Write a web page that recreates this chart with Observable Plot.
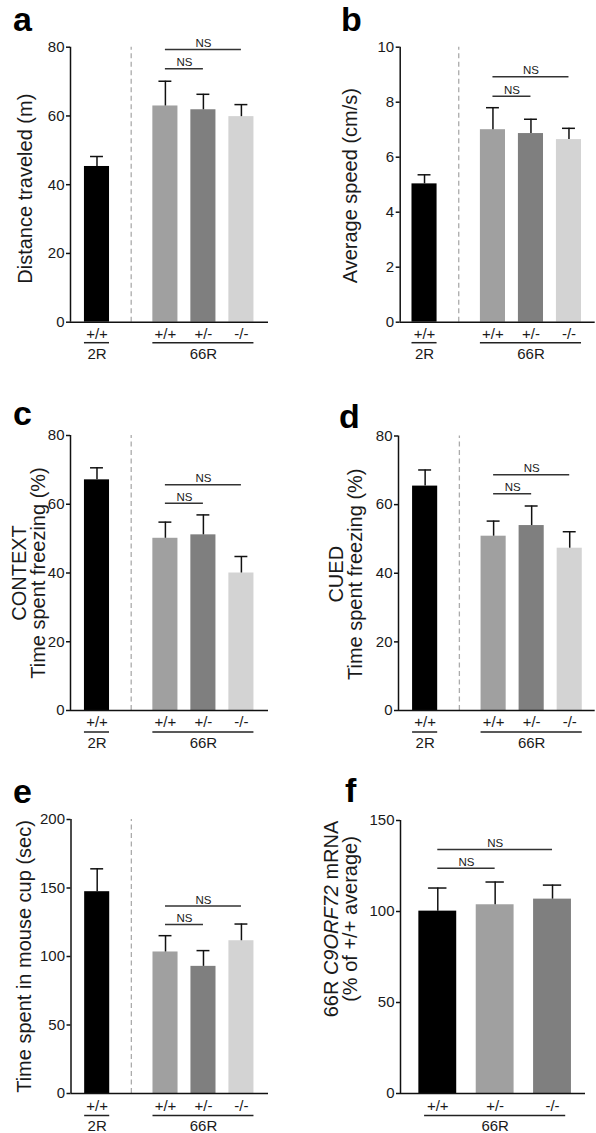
<!DOCTYPE html>
<html><head><meta charset="utf-8">
<script src="https://cdn.jsdelivr.net/npm/d3@7"></script>
<script src="https://cdn.jsdelivr.net/npm/@observablehq/plot@0.6"></script>
<style>
body{margin:0;background:#fff;}
#fig{position:relative;width:596px;height:1133px;overflow:hidden;font-family:"Liberation Sans",Arial,Helvetica,sans-serif;}
.panel{position:absolute;}
.letter{position:absolute;font:bold 34px "Liberation Sans",Arial,sans-serif;line-height:34px;color:#000;}
</style></head>
<body><div id="fig"></div>
<script>
// ---- data ----
const genotypes = ["+/+", "+/+", "+/-", "-/-"];
const lines = ["2R", "66R", "66R", "66R"];
const distanceMean = [45.3, 62.9, 61.8, 59.8];
const distanceSem = [2.9, 7.2, 4.5, 3.5];
const speedMean = [5.03, 7.0, 6.86, 6.64];
const speedSem = [0.33, 0.8, 0.52, 0.41];
const contextMean = [67.1, 50.1, 51.1, 40.0];
const contextSem = [3.5, 4.7, 5.8, 4.8];
const cuedMean = [65.4, 50.8, 53.9, 47.3];
const cuedSem = [4.7, 4.4, 5.7, 4.8];
const cupMean = [147.3, 103.3, 92.8, 111.5];
const cupSem = [16.7, 11.9, 11.5, 12.2];
const mrnaGenotypes = ["+/+", "+/-", "-/-"];
const mrnaLines = ["66R", "66R", "66R"];
const mrnaMean = [100.2, 103.7, 106.8];
const mrnaSem = [12.7, 12.5, 7.7];
// significance brackets: [from bar, to bar, height]
const distanceNS = [[1, 3, 79.3], [1, 2, 73.7]];
const speedNS = [[1, 3, 8.93], [1, 2, 8.22]];
const contextNS = [[1, 3, 65.7], [1, 2, 60.3]];
const cuedNS = [[1, 3, 68.7], [1, 2, 63.2]];
const cupNS = [[1, 3, 136.8], [1, 2, 123.4]];
const mrnaNS = [[0, 2, 134.1], [0, 1, 123.8]];
const distanceTicks = [0, 20, 40, 60, 80];
const speedTicks = [0, 2, 4, 6, 8, 10];
const freezeTicks = [0, 20, 40, 60, 80];
const cupTicks = [0, 50, 100, 150, 200];
const mrnaTicks = [0, 50, 100, 150];

// ---- styles ----
const palette4 = ["#000000", "#a0a0a0", "#7f7f7f", "#d3d3d3"];
const palette3 = ["#000000", "#a0a0a0", "#7f7f7f"];
const FONT = '"Liberation Sans", Arial, Helvetica, sans-serif';
const INK = "#1a1a1a";
const GAP = 0.8;
const TICK_FS = 15;

function makePanel(o) {
  let b = 0;
  const rows = o.cats.map((g, i) => {
    if (i > 0 && o.groups[i] !== o.groups[i - 1]) b++;
    return {genotype: g, line: o.groups[i], mean: o.means[i], sem: o.sems[i], pos: i + GAP * b, color: o.palette[i]};
  });
  const bh = o.barHalf, ch = o.capHalf, inset = o.inset || 0;
  const spans = d3.groups(rows, d => d.line).map(([name, rs]) => ({
    name,
    x1: d3.min(rs, d => d.pos) - bh + inset,
    x2: d3.max(rs, d => d.pos) + bh - inset
  }));
  const dividers = [];
  for (let i = 1; i < rows.length; i++) if (rows[i].line !== rows[i - 1].line) dividers.push((rows[i].pos + rows[i - 1].pos) / 2);
  const ns = o.ns.map(([a, c, y]) => ({x1: rows[a].pos, x2: rows[c].pos, y}));
  const ymax = o.yDomain[1];
  const x0 = o.xDomain[0], x1 = o.xDomain[1];
  const svg = Plot.plot({
    width: o.width, height: o.height,
    marginTop: o.mt, marginBottom: o.mb, marginLeft: o.ml, marginRight: o.mr,
    x: {type: "linear", domain: o.xDomain, axis: null},
    y: {domain: o.yDomain, axis: null},
    color: {type: "identity"},
    style: {fontFamily: FONT, color: INK, background: "transparent", overflow: "visible"},
    marks: [
      Plot.ruleX(dividers, {x: d => d, y1: 0, y2: ymax, stroke: "#ababab", strokeWidth: 1.3, strokeDasharray: "5,3.5"}),
      Plot.rectY(rows, {x1: d => d.pos - bh, x2: d => d.pos + bh, y: "mean", fill: "color"}),
      Plot.ruleX(rows, {x: "pos", y1: "mean", y2: d => d.mean + d.sem, stroke: "#111", strokeWidth: 1.5}),
      Plot.ruleY(rows, {y: d => d.mean + d.sem, x1: d => d.pos - ch, x2: d => d.pos + ch, stroke: "#111", strokeWidth: 1.5}),
      Plot.axisY({ticks: o.yTicks, tickSize: 4, tickPadding: 2, fontSize: TICK_FS, label: null, stroke: "#111", strokeWidth: 1.5, fill: INK}),
      Plot.ruleX([x0], {y1: 0, y2: ymax, stroke: "#111", strokeWidth: 1.5}),
      Plot.ruleY([0], {x1: x0, x2: x1, stroke: "#111", strokeWidth: 1.5}),
      Plot.text(rows, {x: "pos", y: 0, text: "genotype", dy: o.tickDy, fontSize: TICK_FS, fill: INK}),
      Plot.ruleY(spans, {y: 0, x1: "x1", x2: "x2", dy: o.lineDy, stroke: "#222", strokeWidth: 1.5}),
      Plot.text(spans, {x: d => (d.x1 + d.x2) / 2, y: 0, text: "name", dy: o.groupDy, fontSize: TICK_FS, fill: INK}),
      Plot.ruleY(ns, {y: "y", x1: "x1", x2: "x2", stroke: "#333", strokeWidth: 1.5}),
      Plot.text(ns, {x: d => (d.x1 + d.x2) / 2, y: "y", text: () => "NS", dy: -2.5, lineAnchor: "bottom", fontSize: 11.5, fill: INK}),
      Plot.text([o.label], {text: d => d, frameAnchor: "left", textAnchor: "middle", rotate: -90, dx: o.labelDx, dy: o.labelDy, fontSize: 20, lineHeight: 0.95, lineAnchor: "middle", fill: INK})
    ]
  });
  svg.classList.add("panel");
  svg.style.left = o.left + "px";
  svg.style.top = o.top + "px";
  return svg;
}

const fig = document.getElementById("fig");
const common4 = {cats: genotypes, groups: lines, palette: palette4, width: 298, barHalf: 0.33, capHalf: 0.17};

const panels = [
  makePanel({...common4, means: distanceMean, sems: distanceSem, ns: distanceNS, yDomain: [0, 80], yTicks: distanceTicks,
    label: "Distance traveled (m)", left: 0, top: 0, height: 370, mt: 46.7, mb: 48.3, ml: 70, mr: 30,
    xDomain: [-0.697, 4.513], labelDx: -45, labelDy: 4, tickDy: 11.8, lineDy: 20.5, groupDy: 32}),
  makePanel({...common4, means: speedMean, sems: speedSem, ns: speedNS, yDomain: [0, 10], yTicks: speedTicks,
    label: "Average speed (cm/s)", left: 298, top: 0, height: 370, mt: 46.7, mb: 48.3, ml: 101.7, mr: 1.3,
    xDomain: [-0.64, 4.49], labelDx: -49, labelDy: 1, tickDy: 11.8, lineDy: 20.5, groupDy: 32}),
  makePanel({...common4, means: contextMean, sems: contextSem, ns: contextNS, yDomain: [0, 80], yTicks: freezeTicks,
    label: "CONTEXT\nTime spent freezing (%)", left: 0, top: 370, height: 380, mt: 65, mb: 40, ml: 70, mr: 30,
    xDomain: [-0.697, 4.513], labelDx: -41, labelDy: 0, tickDy: 12, lineDy: 21.5, groupDy: 33}),
  makePanel({...common4, means: cuedMean, sems: cuedSem, ns: cuedNS, yDomain: [0, 80], yTicks: freezeTicks,
    label: "CUED\nTime spent freezing (%)", left: 298, top: 370, height: 380, mt: 65.5, mb: 40, ml: 100, mr: 1.3,
    xDomain: [-0.70, 4.47], labelDx: -52.5, labelDy: 1, tickDy: 12, lineDy: 21.5, groupDy: 33}),
  makePanel({...common4, means: cupMean, sems: cupSem, ns: cupNS, yDomain: [0, 200], yTicks: cupTicks,
    label: "Time spent in mouse cup (sec)", left: 0, top: 750, height: 383, mt: 69, mb: 40, ml: 70.5, mr: 30,
    xDomain: [-0.69, 4.513], labelDx: -46.5, labelDy: 0, tickDy: 12.5, lineDy: 22, groupDy: 32.5}),
  makePanel({cats: mrnaGenotypes, groups: mrnaLines, palette: palette3, width: 298, barHalf: 0.33, capHalf: 0.16, inset: 0.1,
    means: mrnaMean, sems: mrnaSem, ns: mrnaNS, yDomain: [0, 150], yTicks: mrnaTicks,
    label: "66R C9ORF72 mRNA\n(% of +/+ average)", left: 298, top: 750, height: 383, mt: 70, mb: 40, ml: 102, mr: 11,
    xDomain: [-0.65, 2.575], labelDx: -59.5, labelDy: -38, tickDy: 12.5, lineDy: 22, groupDy: 32.5})
];
panels.forEach(p => fig.appendChild(p));

// italic gene name in panel f label
const fSvg = panels[5];
fSvg.querySelectorAll("tspan").forEach(t => {
  if (t.textContent === "66R C9ORF72 mRNA") {
    t.textContent = "";
    t.appendChild(document.createTextNode("66R "));
    const it = document.createElementNS("http://www.w3.org/2000/svg", "tspan");
    it.setAttribute("font-style", "italic");
    it.textContent = "C9ORF72";
    t.appendChild(it);
    t.appendChild(document.createTextNode(" mRNA"));
  }
});

// panel letters
[["a", 13, 2.2], ["b", 341, 2.2], ["c", 13, 396.2], ["d", 339, 399.2], ["e", 13, 774.2], ["f", 345, 773.2]].forEach(([t, x, y]) => {
  const d = document.createElement("div");
  d.className = "letter";
  d.textContent = t;
  d.style.left = x + "px";
  d.style.top = y + "px";
  fig.appendChild(d);
});
</script>
</body></html>
